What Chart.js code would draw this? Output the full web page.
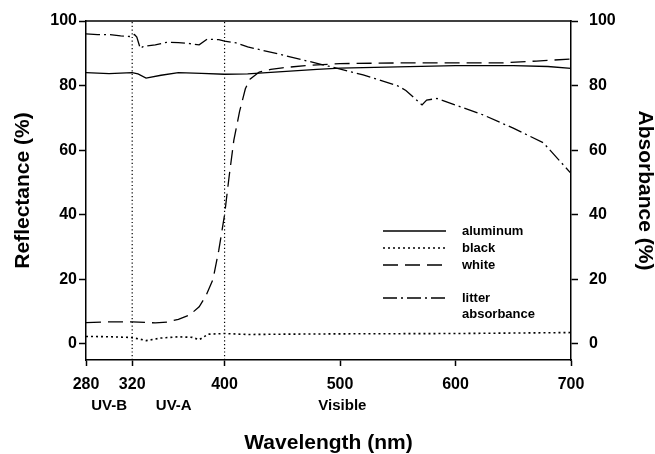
<!DOCTYPE html>
<html>
<head>
<meta charset="utf-8">
<script src="https://cdn.jsdelivr.net/npm/chart.js@4/dist/chart.umd.min.js"></script>
<style>
  html, body { margin: 0; padding: 0; background: #fff; }
  canvas { display: block; }
</style>
</head>
<body>
<canvas id="chart" width="655" height="454"></canvas>
<script>
// Data ==========================================
const xTicks = [280, 320, 400, 500, 600, 700];
const yTicks = [0, 20, 40, 60, 80, 100];

const regionLabels = ["UV-B", "UV-A", "Visible"];
const regionWl = [300, 356, 502];
const boundaryWl = [320, 400];

const aluminumWl = [280, 300, 320, 325, 332, 345, 360, 380, 400, 420, 450, 480, 500, 550, 600, 650, 680, 700];
const aluminumR = [84, 83.7, 84, 83.6, 82.3, 83.2, 84, 83.8, 83.5, 83.6, 84.3, 85, 85.4, 85.8, 86.2, 86.2, 85.9, 85.3];

const blackWl = [280, 300, 318, 325, 332, 345, 360, 372, 378, 386, 400, 420, 450, 500, 600, 700];
const blackR = [2.3, 2.2, 2.0, 1.6, 1.0, 1.8, 2.2, 2.0, 1.3, 3.0, 3.2, 2.9, 3.0, 3.1, 3.2, 3.5];

const whiteWl = [280, 300, 320, 340, 350, 360, 370, 378, 384, 390, 395, 400, 404, 408, 413, 418, 422, 430, 440, 450, 470, 500, 550, 600, 640, 670, 700];
const whiteR = [6.6, 6.8, 6.8, 6.5, 6.7, 7.6, 9, 11.5, 15, 20, 29, 40, 52, 63, 72, 79, 82, 84.2, 85, 85.5, 86.2, 86.8, 87, 87, 87, 87.6, 88.2];

const litterWl = [280, 290, 300, 310, 318, 322, 324, 327, 330, 340, 350, 360, 370, 378, 385, 395, 400, 410, 420, 450, 490, 520, 550, 557, 571, 575, 584, 624, 650, 676, 700];
const litterA = [96, 95.8, 95.8, 95.4, 95.2, 95.8, 95, 91.5, 92.2, 92.6, 93.4, 93.3, 93, 92.6, 94.4, 94.2, 93.8, 93.2, 92, 89.5, 86, 83.3, 79.9, 78.5, 74, 75.5, 76, 70.9, 66.8, 62.3, 52.8];

function pts(xs, ys) {
  return xs.map((x, i) => ({ x: x, y: ys[i] }));
}

const FONT = "'Liberation Sans', Arial, sans-serif";

// Plugins =======================================
const frameAndLabels = {
  id: "frameAndLabels",
  afterDraw(chart) {
    const { ctx, chartArea: { top, left, right } } = chart;
    const xs = chart.scales.x;
    ctx.save();
    // top border of the frame
    ctx.strokeStyle = "#000";
    ctx.lineWidth = 1.5;
    ctx.beginPath();
    ctx.moveTo(left - 0.75, top);
    ctx.lineTo(right + 0.75, top);
    ctx.stroke();
    // region names under the wavelength ticks
    ctx.fillStyle = "#000";
    ctx.font = "bold 15px " + FONT;
    ctx.textAlign = "center";
    ctx.textBaseline = "middle";
    regionLabels.forEach((t, i) => {
      ctx.fillText(t, xs.getPixelForValue(regionWl[i]), xs.top + 46);
    });
    ctx.restore();
  },
};

const insideLegend = {
  id: "insideLegend",
  afterDraw(chart) {
    const { ctx } = chart;
    const rows = [231, 248, 265, 298];
    ctx.save();
    ctx.font = "bold 13px " + FONT;
    ctx.fillStyle = "#000";
    ctx.textAlign = "left";
    ctx.textBaseline = "middle";
    chart.data.datasets.slice(0, 4).forEach((ds, i) => {
      const y = rows[i];
      ctx.strokeStyle = "#000";
      ctx.lineWidth = ds.borderWidth;
      ctx.setLineDash(ds.borderDash || []);
      ctx.beginPath();
      ctx.moveTo(383, y);
      ctx.lineTo(446, y);
      ctx.stroke();
      ds.label.split("\n").forEach((line, j) => {
        ctx.fillText(line, 462, y + j * 16);
      });
    });
    ctx.restore();
  },
};

// Chart =========================================
const tickFont = { family: FONT, size: 16, weight: "bold" };
const titleFont = { family: FONT, size: 21, weight: "bold", lineHeight: 1 };

function yAxis(pos, title, pad, titlePad, width) {
  return {
    type: "linear",
    position: pos,
    min: -5,
    max: 100,
    afterBuildTicks: (s) => { s.ticks = yTicks.map((v) => ({ value: v })); },
    afterFit: (s) => { s.width = width; },
    grid: { drawOnChartArea: false, drawTicks: true, tickLength: 7, tickColor: "#000", tickWidth: 1.5 },
    border: { display: true, color: "#000", width: 1.5 },
    ticks: { font: tickFont, color: "#000", padding: pad, autoSkip: false },
    title: { display: true, text: title, font: titleFont, color: "#000", padding: { top: titlePad, bottom: 0 } },
  };
}

const lineStyle = { pointRadius: 0, tension: 0, fill: false, borderColor: "#000", borderWidth: 1.3 };

new Chart(document.getElementById("chart"), {
  type: "line",
  data: {
    datasets: [
      { ...lineStyle, label: "aluminum", data: pts(aluminumWl, aluminumR), borderDash: [] },
      { ...lineStyle, label: "black", data: pts(blackWl, blackR), borderDash: [2, 3], borderWidth: 1.6 },
      { ...lineStyle, label: "white", data: pts(whiteWl, whiteR), borderDash: [15, 7] },
      { ...lineStyle, label: "litter\nabsorbance", data: pts(litterWl, litterA), borderDash: [14, 4, 2, 4], yAxisID: "y2" },
      { ...lineStyle, label: "", data: [{ x: boundaryWl[0], y: -5 }, { x: boundaryWl[0], y: 100 }], borderDash: [1.2, 2.5], borderWidth: 1.2 },
      { ...lineStyle, label: "", data: [{ x: boundaryWl[1], y: -5 }, { x: boundaryWl[1], y: 100 }], borderDash: [1.2, 2.5], borderWidth: 1.2 },
    ],
  },
  options: {
    responsive: false,
    animation: false,
    layout: { padding: { top: 21, left: 0, right: 0, bottom: 0 } },
    plugins: { legend: { display: false }, tooltip: { enabled: false } },
    scales: {
      x: {
        type: "linear",
        min: 280,
        max: 700,
        afterBuildTicks: (s) => { s.ticks = xTicks.map((v) => ({ value: v })); },
        afterFit: (s) => { s.height = 94; },
        grid: { drawOnChartArea: false, drawTicks: true, tickLength: 6, tickColor: "#000", tickWidth: 1.5 },
        border: { display: true, color: "#000", width: 1.5 },
        ticks: { font: tickFont, color: "#000", padding: 9, maxRotation: 0, autoSkip: false },
        title: { display: true, text: "Wavelength (nm)", font: titleFont, color: "#000", padding: { top: 0, bottom: 0 } },
      },
      y: yAxis("left", "Reflectance (%)", 2, 13, 86),
      y2: yAxis("right", "Absorbance (%)", 11, 0, 84),
    },
  },
  plugins: [frameAndLabels, insideLegend],
});
</script>
</body>
</html>
